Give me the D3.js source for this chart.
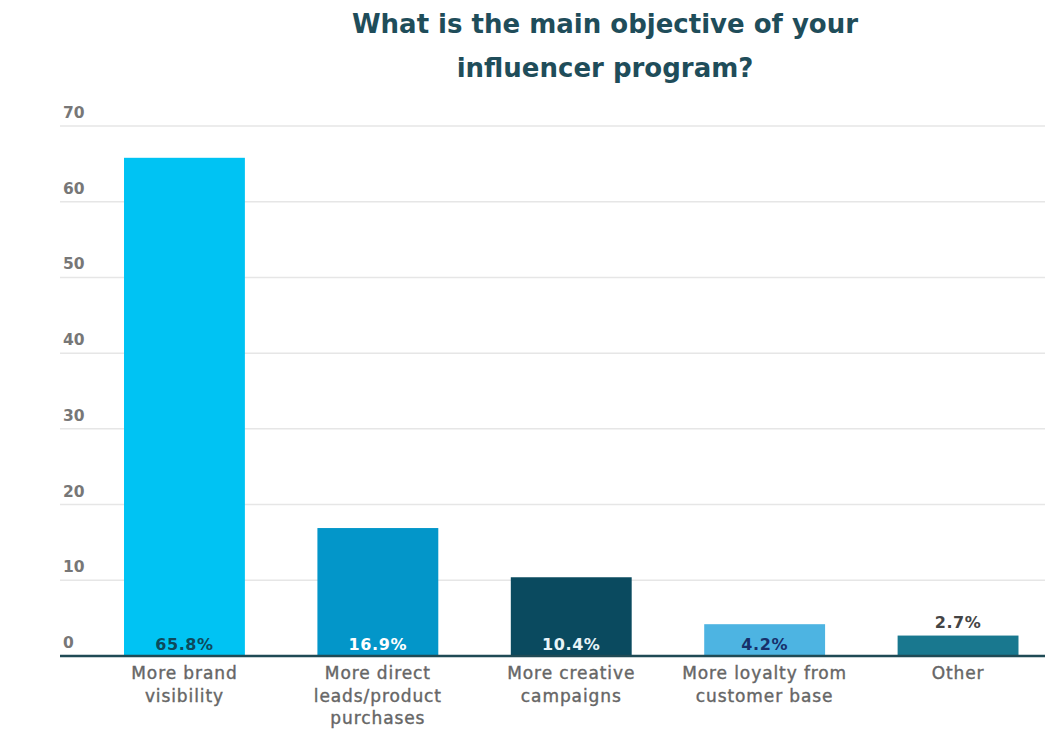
<!DOCTYPE html>
<html>
<head>
<meta charset="utf-8">
<script src="https://cdn.jsdelivr.net/npm/d3@7"></script>
<style>
  html, body { margin: 0; padding: 0; background: #ffffff; }
  svg { display: block; }
</style>
</head>
<body>
<svg id="chart" width="1045" height="740"></svg>
<script>
const titleLines = ["What is the main objective of your", "influencer program?"];
const categories = [
  ["More brand", "visibility"],
  ["More direct", "leads/product", "purchases"],
  ["More creative", "campaigns"],
  ["More loyalty from", "customer base"],
  ["Other"]
];
const values = [65.8, 16.9, 10.4, 4.2, 2.7];
const valueLabels = ["65.8%", "16.9%", "10.4%", "4.2%", "2.7%"];
const barColors = ["#00c3f3", "#0396c9", "#0a4a5f", "#4db4e2", "#19788f"];
const labelColors = ["#0d4a5c", "#ffffff", "#e8f4f8", "#17306b", "#444444"];
const labelInside = [true, true, true, true, false];
const yTicks = [0, 10, 20, 30, 40, 50, 60, 70];

const svg = d3.select("#chart");
const y = d3.scaleLinear().domain([0, 70]).range([656, 126]);
const x = d3.scaleBand().domain(d3.range(values.length))
  .range([87.75, 1054.75]).paddingInner(0.375).paddingOuter(0.1875);

const font = "'DejaVu Sans', 'Open Sans', sans-serif";

// title
svg.append("g").selectAll("text").data(titleLines).join("text")
  .attr("x", 605).attr("y", (d, i) => 33 + i * 44)
  .attr("text-anchor", "middle")
  .attr("font-family", font)
  .attr("font-weight", 700).attr("font-size", 26)
  .attr("fill", "#1f4d5a")
  .text(d => d);

// gridlines
const grid = svg.append("g");
grid.selectAll("line").data(yTicks.filter(d => d > 0)).join("line")
  .attr("x1", 60).attr("x2", 1045)
  .attr("y1", d => y(d)).attr("y2", d => y(d))
  .attr("stroke", "#e6e6e6").attr("stroke-width", 1.5);

// tick labels
svg.append("g").selectAll("text").data(yTicks).join("text")
  .attr("x", 63).attr("y", d => y(d) - 8)
  .attr("font-family", font)
  .attr("font-weight", 700).attr("font-size", 15.5)
  .attr("fill", "#777777")
  .text(d => d);

// bars
svg.append("g").selectAll("rect").data(values).join("rect")
  .attr("x", (d, i) => x(i)).attr("width", x.bandwidth())
  .attr("y", d => y(d)).attr("height", d => y(0) - y(d))
  .attr("fill", (d, i) => barColors[i]);

// baseline
svg.append("line")
  .attr("x1", 60).attr("x2", 1045)
  .attr("y1", y(0)).attr("y2", y(0))
  .attr("stroke", "#1f4a55").attr("stroke-width", 2.5);

// value labels
svg.append("g").selectAll("text").data(values).join("text")
  .attr("x", (d, i) => x(i) + x.bandwidth() / 2)
  .attr("y", (d, i) => labelInside[i] ? y(0) - 6 : y(d) - 8)
  .attr("text-anchor", "middle")
  .attr("font-family", font)
  .attr("font-weight", 700).attr("font-size", 16)
  .attr("letter-spacing", 0.6)
  .attr("fill", (d, i) => labelColors[i])
  .text((d, i) => valueLabels[i]);

// category labels
const cat = svg.append("g").selectAll("text").data(categories).join("text")
  .attr("text-anchor", "middle")
  .attr("font-family", font)
  .attr("font-weight", 400).attr("font-size", 17)
  .attr("letter-spacing", 0.9)
  .attr("fill", "#666666")
  .attr("stroke", "#666666").attr("stroke-width", 0.4);
cat.each(function(lines, i) {
  d3.select(this).selectAll("tspan").data(lines).join("tspan")
    .attr("x", x(i) + x.bandwidth() / 2)
    .attr("y", (d, j) => 679 + j * 22.5)
    .text(d => d);
});
</script>
</body>
</html>
